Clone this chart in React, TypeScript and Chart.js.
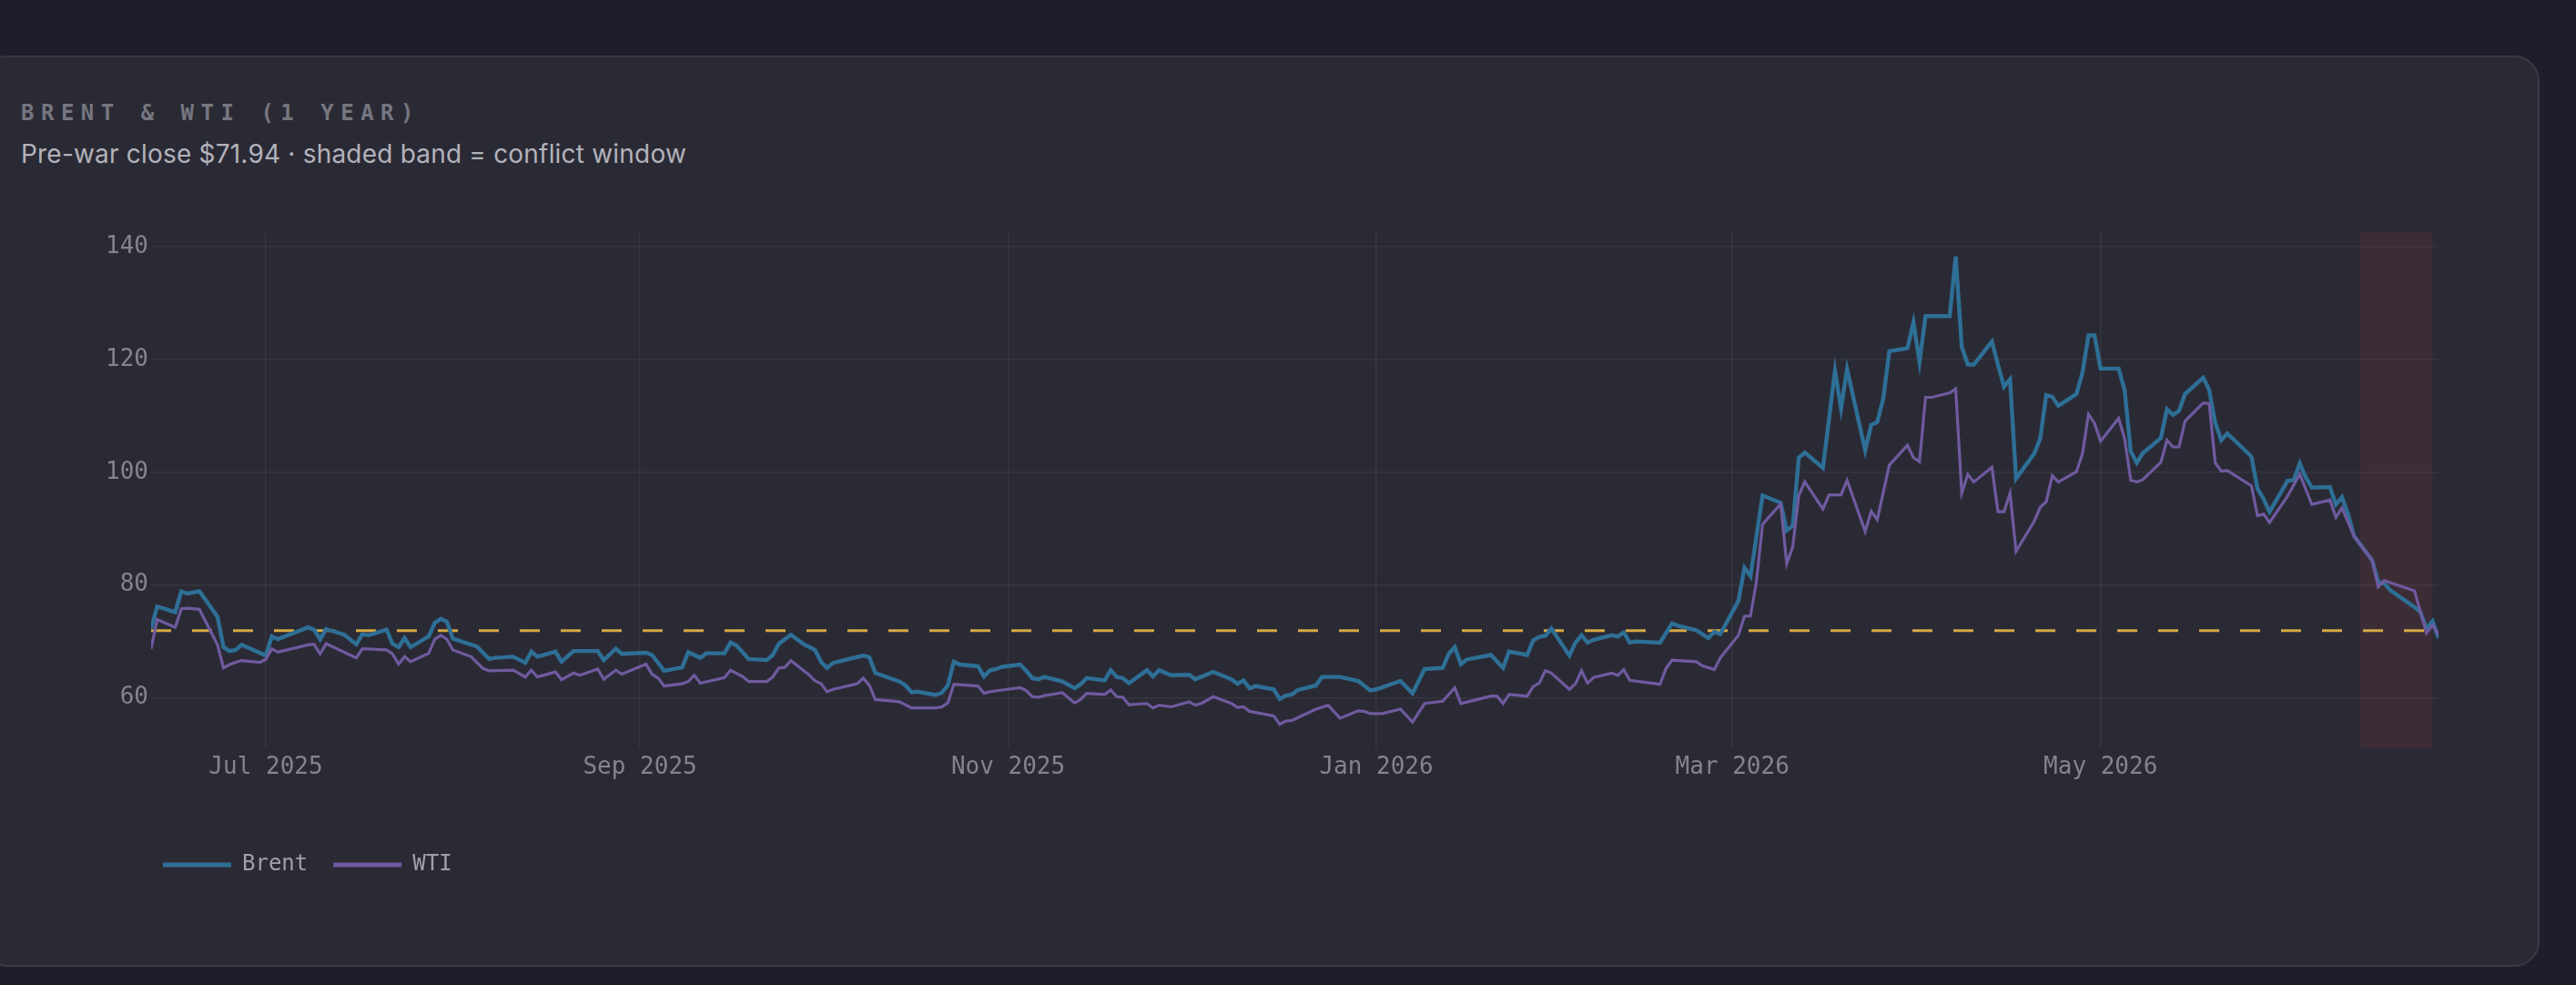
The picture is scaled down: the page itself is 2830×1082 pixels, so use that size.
import React, { useEffect, useRef } from 'react';
import Chart from 'chart.js/auto';

// x values are days counted from 12 Jun 2025 (day 0)
const brentDays = [
  0, 1, 4, 5, 6, 8, 11, 12, 13, 14, 15, 19, 20, 21, 26, 27, 28, 29, 32, 34, 35, 36, 39, 40, 41, 42, 43, 46, 47,
  48, 49, 50, 54, 56, 57, 60, 62, 63, 64, 67, 68, 70, 74, 75, 77, 78, 82, 83, 85, 88, 89, 91, 92, 95, 96, 97,
  99, 102, 103, 104, 106, 108, 110, 111, 112, 113, 118, 119, 120, 124, 125, 126, 127, 130, 131, 132, 133, 134,
  137, 138, 139, 140, 141, 144, 145, 146, 147, 148, 151, 153, 154, 155, 158, 159, 160, 161, 162, 165, 166, 167,
  169, 172, 173, 176, 179, 180, 181, 182, 183, 186, 187, 188, 189, 190, 193, 194, 197, 200, 202, 203, 207, 209,
  211, 214, 215, 216, 217, 218, 222, 224, 225, 228, 229, 230, 231, 232, 235, 236, 237, 238, 239, 242, 243, 244,
  245, 246, 250, 252, 253, 256, 258, 259, 260, 263, 264, 265, 267, 270, 271, 272, 273, 274, 277, 279, 280, 281,
  284, 285, 286, 287, 288, 291, 292, 293, 294, 298, 299, 300, 301, 302, 305, 306, 307, 308, 309, 312, 313, 314,
  315, 316, 319, 320, 321, 322, 323, 326, 327, 328, 329, 330, 333, 334, 335, 336, 337, 340, 341, 342, 343, 344,
  348, 349, 350, 351, 354, 355, 356, 357, 358, 361, 362, 363, 364, 365, 368, 369, 370, 371, 375, 376, 377, 378,
  379,
];
const brentPrices = [
  72.3, 76.2, 75.2, 78.9, 78.5, 78.9, 74.4, 69.0, 68.3, 68.5, 69.4, 67.5, 70.9, 70.4, 72.5, 72.1, 70.4, 72.2,
  71.2, 69.5, 71.3, 71.1, 72.1, 69.6, 69.0, 70.6, 69.0, 70.9, 73.3, 74.0, 73.5, 70.5, 69.1, 66.9, 67.1, 67.3,
  66.2, 68.2, 67.3, 68.2, 66.4, 68.3, 68.3, 66.7, 68.7, 67.8, 68.0, 67.6, 64.8, 65.4, 68.1, 67.1, 67.9, 67.9,
  69.8, 69.3, 66.9, 66.7, 67.6, 69.6, 71.2, 69.6, 68.5, 66.4, 65.3, 66.2, 67.5, 67.2, 64.4, 62.9, 62.2, 61.0,
  61.1, 60.5, 60.9, 62.2, 66.4, 65.9, 65.6, 63.8, 64.9, 65.1, 65.5, 65.9, 64.8, 63.5, 63.3, 63.7, 62.9, 61.7,
  62.4, 63.5, 63.1, 64.9, 63.7, 63.5, 62.6, 64.9, 63.8, 64.9, 64.0, 64.1, 63.3, 64.6, 63.3, 62.5, 63.1, 61.7,
  62.1, 61.5, 59.8, 60.4, 60.6, 61.4, 62.2, 63.7, 63.7, 63.0, 61.3, 61.5, 63.0, 60.8, 65.1, 65.3, 67.8, 69.0,
  66.0, 66.8, 67.6, 65.3, 68.2, 67.6, 70.2, 70.8, 71.0, 72.3, 67.5, 69.8, 71.1, 69.8, 70.3, 71.1, 70.9, 71.6,
  69.8, 70.0, 69.8, 73.2, 72.8, 72.0, 70.6, 71.7, 71.3, 77.2, 83.1, 81.6, 95.9, 94.6, 89.7, 90.5, 102.6, 103.5,
  100.8, 118.0, 111.3, 118.3, 103.9, 108.4, 108.9, 113.1, 121.5, 122.0, 126.6, 119.6, 127.7, 127.7, 138.3,
  122.3, 119.1, 119.1, 123.2, 119.1, 115.2, 116.5, 98.9, 103.3, 106.0, 113.7, 113.4, 111.8, 113.9, 117.7, 124.3,
  124.3, 118.4, 118.4, 114.5, 103.7, 101.7, 103.4, 106.1, 111.2, 110.2, 110.9, 113.9, 116.8, 114.6, 108.8,
  105.7, 106.9, 102.8, 97.1, 95.3, 93.0, 98.5, 98.6, 101.6, 99.1, 97.3, 97.4, 94.3, 95.6, 92.6, 88.7, 84.4,
  80.6, 80.3, 79.1, 76.1, 75.2, 72.3, 73.6, 70.6,
];

const wtiDays = [
  0, 1, 4, 5, 6, 8, 11, 12, 13, 14, 15, 18, 19, 20, 21, 26, 27, 28, 29, 34, 35, 39, 40, 41, 42, 43, 46, 47, 48,
  49, 50, 53, 55, 56, 60, 62, 63, 64, 67, 68, 70, 71, 74, 75, 77, 78, 82, 83, 84, 85, 88, 89, 90, 91, 95, 96,
  98, 99, 102, 103, 104, 105, 106, 109, 110, 111, 112, 113, 117, 118, 119, 120, 124, 126, 130, 131, 132, 133,
  137, 138, 139, 144, 145, 146, 147, 148, 151, 153, 154, 155, 158, 159, 160, 161, 162, 165, 166, 167, 169, 172,
  173, 174, 176, 179, 180, 181, 182, 186, 187, 188, 189, 193, 195, 197, 200, 201, 202, 204, 207, 209, 211, 214,
  216, 217, 222, 223, 224, 225, 228, 229, 230, 231, 232, 235, 236, 237, 238, 239, 242, 243, 244, 245, 250, 251,
  252, 256, 257, 259, 260, 263, 264, 265, 266, 267, 270, 271, 272, 273, 274, 277, 278, 280, 281, 284, 285, 286,
  288, 291, 292, 293, 294, 295, 298, 299, 300, 301, 302, 305, 306, 307, 308, 309, 312, 313, 314, 315, 316, 319,
  320, 321, 322, 323, 326, 327, 328, 329, 330, 333, 334, 335, 336, 337, 340, 341, 342, 343, 344, 348, 349, 350,
  351, 354, 356, 358, 361, 362, 363, 365, 368, 369, 370, 375, 376, 377, 378, 379,
];
const wtiPrices = [
  68.7, 73.9, 72.5, 75.8, 75.9, 75.7, 69.4, 65.3, 65.9, 66.3, 66.6, 66.3, 66.8, 68.7, 68.1, 69.4, 69.5, 67.8,
  69.6, 67.1, 68.7, 68.5, 67.8, 66.0, 67.3, 66.4, 67.9, 70.4, 71.1, 70.4, 68.5, 67.3, 65.2, 64.8, 64.9, 63.7,
  64.9, 63.7, 64.6, 63.2, 64.4, 64.0, 65.1, 63.3, 64.9, 64.2, 66.0, 64.2, 63.5, 62.1, 62.5, 62.9, 64.0, 62.6,
  63.6, 64.9, 63.8, 62.9, 62.9, 63.7, 65.3, 65.4, 66.6, 64.1, 63.0, 62.5, 61.1, 61.5, 62.5, 63.5, 62.2, 59.7,
  59.3, 58.2, 58.2, 58.4, 59.1, 62.4, 62.1, 60.8, 61.1, 61.8, 61.3, 60.2, 60.1, 60.4, 60.9, 59.1, 59.7, 60.8,
  60.6, 61.4, 60.2, 60.1, 58.8, 59.0, 58.2, 58.7, 58.4, 59.3, 58.7, 59.0, 60.2, 59.0, 58.3, 58.4, 57.6, 56.8,
  55.3, 55.9, 56.0, 58.0, 58.7, 56.4, 57.7, 57.6, 57.2, 57.2, 58.0, 55.7, 59.0, 59.4, 61.8, 59.0, 60.3, 60.3,
  59.0, 60.6, 60.3, 62.0, 62.6, 64.8, 64.4, 61.5, 62.5, 64.8, 62.6, 63.6, 64.4, 64.0, 65.0, 63.1, 62.4, 65.2,
  66.7, 66.4, 65.7, 65.0, 67.1, 71.1, 74.5, 74.5, 80.8, 90.8, 94.4, 83.8, 86.8, 95.9, 98.3, 93.5, 96.0, 96.0,
  98.6, 89.5, 93.1, 91.6, 101.3, 104.8, 102.6, 101.9, 113.3, 113.3, 114.1, 114.8, 96.3, 99.6, 98.3, 100.9, 93.0,
  93.0, 96.3, 86.0, 91.3, 93.8, 94.8, 99.4, 98.3, 100.1, 103.3, 110.3, 108.7, 105.5, 109.6, 105.9, 98.6, 98.3,
  98.7, 101.8, 105.7, 104.5, 104.5, 109.1, 112.3, 112.2, 101.7, 100.2, 100.3, 97.6, 92.3, 92.6, 91.1, 95.8,
  99.7, 94.3, 95.1, 92.0, 93.7, 88.7, 84.4, 79.7, 80.8, 79.0, 75.2, 71.5, 72.9, 71.2,
];

const monthTickDays = [19, 81, 142, 203, 262, 323];
const monthTickLabels = ['Jul 2025', 'Sep 2025', 'Nov 2025', 'Jan 2026', 'Mar 2026', 'May 2026'];
const priceTicks = [60, 80, 100, 120, 140];
const preWarClose = 71.94;
const conflictWindow = [366, 378];
const firstDay = 0;
const lastDay = 379;

const BRENT_COLOR = '#2e6f96';
const WTI_COLOR = '#6f5a9f';
const MONO = '"DejaVu Sans Mono", monospace';

const conflictBand = {
  id: 'conflictBand',
  beforeDatasetsDraw(chart: Chart) {
    const { ctx, chartArea, scales } = chart;
    const x0 = scales.x.getPixelForValue(conflictWindow[0]);
    const x1 = scales.x.getPixelForValue(conflictWindow[1]);
    ctx.save();
    ctx.fillStyle = 'rgba(239, 68, 68, 0.09)';
    ctx.fillRect(x0, chartArea.top, x1 - x0, chartArea.bottom - chartArea.top);
    ctx.restore();
  },
};

// nudge the legend a little to the left of the plot edge
const legendNudge = {
  id: 'legendNudge',
  afterLayout(chart: Chart) {
    if (chart.legend) {
      chart.legend.left -= 15;
      chart.legend.right -= 15;
    }
  },
};

const OilChart: React.FC = () => {
  const chartRef = useRef<HTMLCanvasElement>(null);
  const chartInstance = useRef<Chart | null>(null);

  useEffect(() => {
    if (!chartRef.current) return;
    const ctx = chartRef.current.getContext('2d');
    if (!ctx) return;

    if (chartInstance.current) {
      chartInstance.current.destroy();
    }

    chartInstance.current = new Chart(ctx, {
      type: 'line',
      data: {
        datasets: [
          {
            label: 'Brent',
            data: brentDays.map((d, i) => ({ x: d, y: brentPrices[i] })),
            borderColor: BRENT_COLOR,
            backgroundColor: BRENT_COLOR,
            borderWidth: 4.4,
            pointRadius: 0,
            tension: 0,
            order: 1,
          },
          {
            label: 'WTI',
            data: wtiDays.map((d, i) => ({ x: d, y: wtiPrices[i] })),
            borderColor: WTI_COLOR,
            backgroundColor: WTI_COLOR,
            borderWidth: 3.2,
            pointRadius: 0,
            tension: 0,
            order: 0,
          },
          {
            label: 'Pre-war close',
            data: [
              { x: firstDay, y: preWarClose },
              { x: lastDay, y: preWarClose },
            ],
            borderColor: '#d4a843',
            borderWidth: 3,
            borderDash: [22, 23],
            pointRadius: 0,
            order: 2,
          },
        ],
      },
      options: {
        responsive: true,
        maintainAspectRatio: false,
        animation: false,
        layout: { padding: 0 },
        plugins: {
          legend: {
            position: 'bottom',
            align: 'start',
            fullSize: false,
            labels: {
              boxWidth: 75,
              boxHeight: 5,
              padding: 28,
              color: '#a0a0a8',
              font: { family: MONO, size: 24 },
              generateLabels: () =>
                [
                  { text: 'Brent', color: BRENT_COLOR },
                  { text: 'WTI', color: WTI_COLOR },
                ].map((item, i) => ({
                  text: item.text,
                  fillStyle: item.color,
                  strokeStyle: item.color,
                  lineWidth: 0,
                  hidden: false,
                  datasetIndex: i,
                  fontColor: '#a0a0a8',
                })),
            },
          },
          tooltip: { enabled: false },
        },
        scales: {
          x: {
            type: 'linear',
            min: firstDay,
            max: lastDay,
            afterBuildTicks: (scale) => {
              scale.ticks = monthTickDays.map((value) => ({ value }));
            },
            afterFit: (scale) => {
              scale.height = 88;
            },
            border: { display: false },
            grid: {
              color: 'rgba(255, 255, 255, 0.06)',
              lineWidth: 1.5,
              drawTicks: false,
            },
            ticks: {
              autoSkip: false,
              maxRotation: 0,
              padding: 6,
              color: '#84848e',
              font: { family: MONO, size: 26 },
              callback: (value) => {
                const idx = monthTickDays.indexOf(Number(value));
                return idx >= 0 ? monthTickLabels[idx] : '';
              },
            },
          },
          y: {
            min: 51.05,
            max: 142.67,
            afterBuildTicks: (scale) => {
              scale.ticks = priceTicks.map((value) => ({ value }));
            },
            afterFit: (scale) => {
              scale.width = 76;
            },
            border: { display: false },
            grid: {
              color: 'rgba(255, 255, 255, 0.06)',
              lineWidth: 1.5,
              drawTicks: false,
            },
            ticks: {
              padding: 3,
              color: '#84848e',
              font: { family: MONO, size: 26 },
            },
          },
        },
      },
      plugins: [conflictBand, legendNudge],
    });

    return () => {
      if (chartInstance.current) {
        chartInstance.current.destroy();
        chartInstance.current = null;
      }
    };
  }, []);

  return <canvas ref={chartRef} />;
};

const App: React.FC = () => {
  return (
    <div
      style={{
        position: 'relative',
        width: 2830,
        height: 1082,
        overflow: 'hidden',
        background: '#1e1e2b',
      }}
    >
      <style>{'body { margin: 0; background: #1e1e2b; }'}</style>
      <div
        style={{
          position: 'absolute',
          left: -20,
          top: 61,
          width: 2810,
          height: 1001,
          boxSizing: 'border-box',
          background: '#2a2a35',
          border: '2px solid #3a3a46',
          borderRadius: 28,
        }}
      />
      <div
        style={{
          position: 'absolute',
          left: 23,
          top: 112,
          fontFamily: MONO,
          fontWeight: 'bold',
          fontSize: 24,
          lineHeight: '24px',
          letterSpacing: 7.5,
          color: '#76767f',
          whiteSpace: 'nowrap',
        }}
      >
        BRENT &amp; WTI (1 YEAR)
      </div>
      <div
        style={{
          position: 'absolute',
          left: 23,
          top: 155,
          fontFamily: 'Inter, "Noto Sans", sans-serif',
          fontSize: 28,
          lineHeight: '28px',
          letterSpacing: 0.2,
          color: '#b3b3bb',
          whiteSpace: 'nowrap',
        }}
      >
        Pre-war close $71.94 · shaded band = conflict window
      </div>
      <div
        style={{
          position: 'absolute',
          left: 90,
          top: 236,
          width: 2589,
          height: 736,
        }}
      >
        <OilChart />
      </div>
    </div>
  );
};

export default App;
